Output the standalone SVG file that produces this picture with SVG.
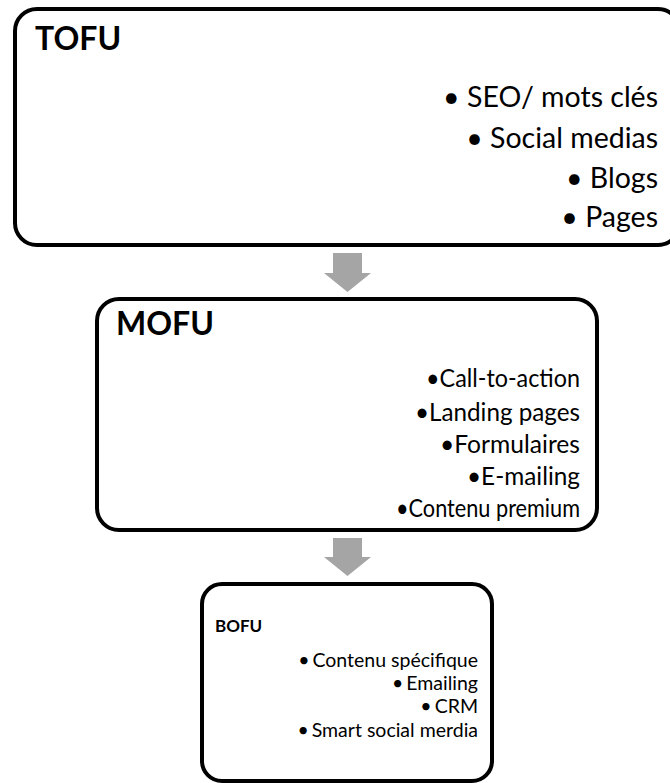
<svg xmlns="http://www.w3.org/2000/svg" width="670" height="783" viewBox="0 0 670 783">
  <style>
    .box { fill: #ffffff; stroke: #000000; stroke-width: 4; }
    .arrow { fill: #a5a5a5; stroke: none; }
    .title { font-family: Lato, "Liberation Sans", sans-serif; font-weight: bold; fill: #000000; }
    .item { font-family: Lato, "Liberation Sans", sans-serif; fill: #000000; text-anchor: end; }
  </style>
  <rect width="670" height="783" fill="#ffffff"/>

  <!-- Down arrows between the funnel stages -->
  <g id="connectors">
    <polygon class="arrow" points="333,253 362,253 362,273 371,273 347.5,292 324,273 333,273"/>
    <polygon class="arrow" points="333,538 362,538 362,557 371,557 347.5,576 324,557 333,557"/>
  </g>

  <!-- Top of funnel -->
  <g id="tofu">
    <rect class="box" x="15" y="9" width="665" height="236" rx="22" ry="22"/>
    <text class="title" x="35" y="50" font-size="32">TOFU</text>
    <g class="item" font-size="28.5">
      <text x="658" y="107">• SEO/ mots clés</text>
      <text x="658" y="148">• Social medias</text>
      <text x="658" y="188">• Blogs</text>
      <text x="658" y="227">• Pages</text>
    </g>
  </g>

  <!-- Middle of funnel -->
  <g id="mofu">
    <rect class="box" x="97" y="299" width="500" height="231" rx="22" ry="22"/>
    <text class="title" x="116" y="335" font-size="32">MOFU</text>
    <g class="item" font-size="25.5">
      <text x="580" y="387" textLength="154" lengthAdjust="spacingAndGlyphs">•Call-to-action</text>
      <text x="580" y="421" textLength="165" lengthAdjust="spacingAndGlyphs">•Landing pages</text>
      <text x="580" y="453" textLength="140" lengthAdjust="spacingAndGlyphs">•Formulaires</text>
      <text x="580" y="485" textLength="113" lengthAdjust="spacingAndGlyphs">•E-mailing</text>
      <text x="580" y="517" textLength="184" lengthAdjust="spacingAndGlyphs">•Contenu premium</text>
    </g>
  </g>

  <!-- Bottom of funnel -->
  <g id="bofu">
    <rect class="box" x="202" y="584" width="290" height="197" rx="20" ry="20"/>
    <text class="title" x="215" y="632" font-size="17">BOFU</text>
    <g class="item" font-size="19.5">
      <text x="478" y="667">•<tspan dx="3">Contenu spécifique</tspan></text>
      <text x="478" y="690">•<tspan dx="3">Emailing</tspan></text>
      <text x="478" y="713">•<tspan dx="3">CRM</tspan></text>
      <text x="478" y="737">•<tspan dx="3">Smart social merdia</tspan></text>
    </g>
  </g>
</svg>
